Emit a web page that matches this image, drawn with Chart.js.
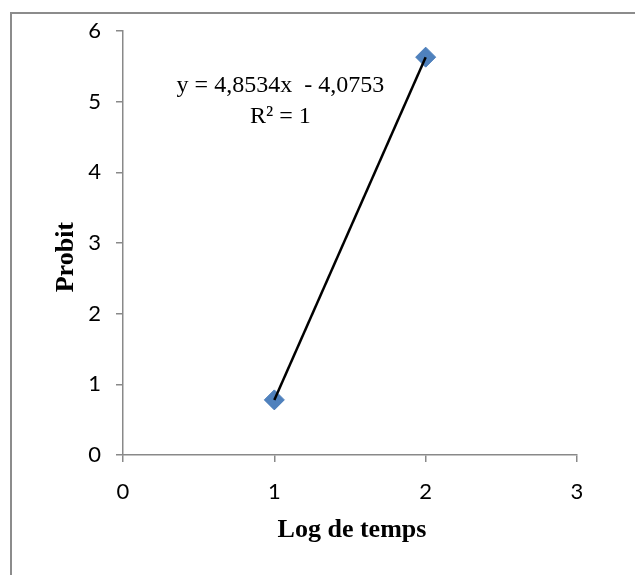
<!DOCTYPE html>
<html>
<head>
<meta charset="utf-8">
<script src="https://cdn.jsdelivr.net/npm/chart.js@4/dist/chart.umd.min.js"></script>
<style>
  html, body { margin: 0; padding: 0; background: #fff; }
  #wrap { position: relative; width: 635px; height: 575px; overflow: hidden; }
  #frame { position: absolute; left: 10px; top: 12px; width: 700px; height: 700px; border: 2px solid #8c8c8c; }
  #chart { position: absolute; left: 0; top: 0; }
</style>
</head>
<body>
<div id="wrap">
  <div id="frame"></div>
  <canvas id="chart" width="635" height="575"></canvas>
</div>
<script>
// Données
const logTemps = [1, 2];
const probit = [0.78, 5.63];
const xTicks = [0, 1, 2, 3];
const yTicks = [0, 1, 2, 3, 4, 5, 6];
const equationLines = ['y = 4,8534x  - 4,0753', 'R\u00b2 = 1'];
const xTitle = 'Log de temps';
const yTitle = 'Probit';

const axisColor = '#898989';
const points = logTemps.map((x, i) => ({ x: x, y: probit[i] }));

// titres des axes + équation de la courbe de tendance
const labelsPlugin = {
    id: 'labels',
    afterDraw(chart) {
        const ctx = chart.ctx;
        const area = chart.chartArea;
        const xs = chart.scales.x;
        const ys = chart.scales.y;
        ctx.save();
        ctx.fillStyle = '#000';
        ctx.textAlign = 'center';
        ctx.textBaseline = 'alphabetic';

        ctx.font = 'bold 26px "Liberation Serif", "Times New Roman", serif';
        ctx.fillText(xTitle, (area.left + area.right) / 2 + 2, 537);

        ctx.save();
        ctx.translate(73, ys.getPixelForValue(2.8));
        ctx.rotate(-Math.PI / 2);
        ctx.fillText(yTitle, 0, 0);
        ctx.restore();

        ctx.font = '24px "Liberation Serif", "Times New Roman", serif';
        const cx = xs.getPixelForValue(1.04);
        ctx.fillText(equationLines[0], cx, ys.getPixelForValue(5.13));
        ctx.fillText(equationLines[1], cx, ys.getPixelForValue(4.7));
        ctx.restore();
    }
};

new Chart(document.getElementById('chart'), {
    type: 'scatter',
    data: {
        datasets: [
            {
                // courbe de tendance
                data: points,
                showLine: true,
                borderColor: '#000',
                borderWidth: 2.5,
                pointRadius: 0,
                fill: false,
                order: 0
            },
            {
                data: points,
                pointStyle: 'rectRot',
                pointRadius: 10,
                backgroundColor: '#4f81bd',
                borderColor: '#4a7dba',
                borderWidth: 1,
                order: 1
            }
        ]
    },
    options: {
        responsive: false,
        animation: false,
        devicePixelRatio: 1,
        layout: { padding: { left: 0, top: 31, right: 58, bottom: 0 } },
        plugins: { legend: { display: false }, tooltip: { enabled: false } },
        scales: {
            x: {
                type: 'linear',
                min: 0,
                max: 3,
                afterBuildTicks: s => { s.ticks = xTicks.map(v => ({ value: v })); },
                afterFit: s => { s.height = 120; },
                grid: { drawOnChartArea: false, drawTicks: true, tickLength: 7, color: axisColor, lineWidth: 1.5 },
                border: { display: true, color: axisColor, width: 1.5 },
                ticks: { color: '#000', padding: 17, font: { family: 'Lato', size: 22 } }
            },
            y: {
                type: 'linear',
                min: 0,
                max: 6,
                afterBuildTicks: s => { s.ticks = yTicks.map(v => ({ value: v })); },
                afterFit: s => { s.width = 123; },
                grid: { drawOnChartArea: false, drawTicks: true, tickLength: 7, color: axisColor, lineWidth: 1.5 },
                border: { display: true, color: axisColor, width: 1.5 },
                ticks: { color: '#000', padding: 15, font: { family: 'Lato', size: 22 } }
            }
        }
    },
    plugins: [labelsPlugin]
});
</script>
</body>
</html>
